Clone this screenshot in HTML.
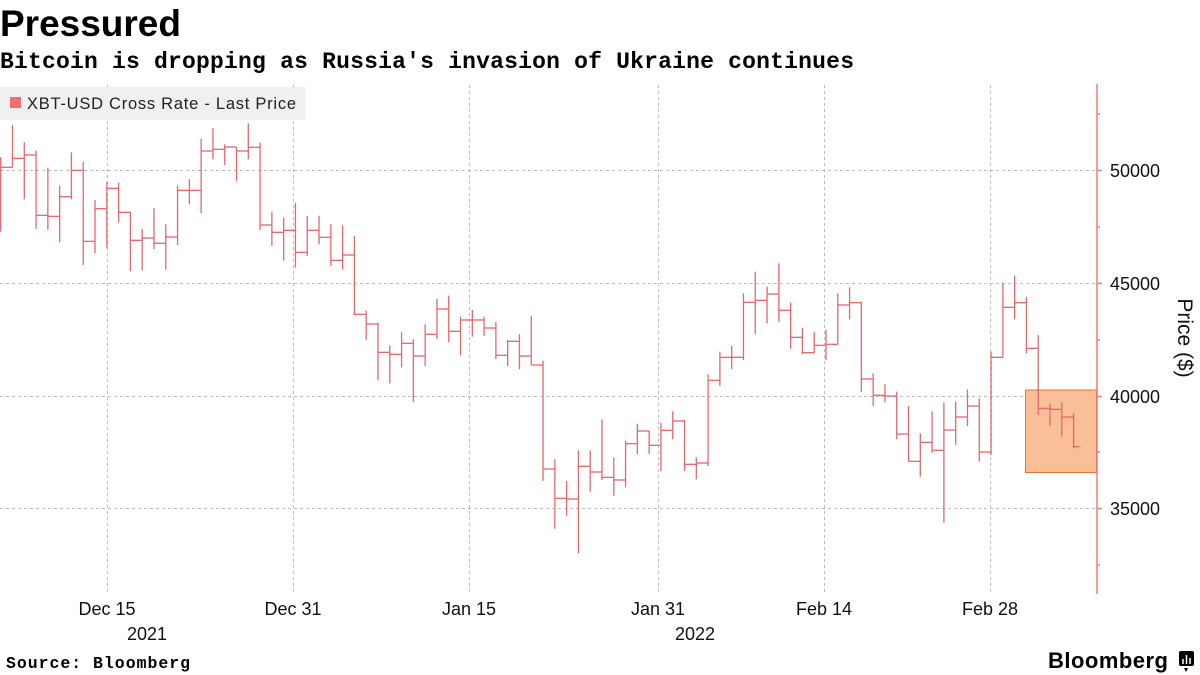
<!DOCTYPE html>
<html><head><meta charset="utf-8"><style>
body{margin:0;width:1200px;height:675px;background:#fff;overflow:hidden;font-family:"Liberation Sans",sans-serif}
</style></head><body>
<svg id="s" width="1200" height="675" xmlns="http://www.w3.org/2000/svg" style="position:absolute;left:0;top:0">
<text x="0" y="36" font-family="Liberation Sans" font-weight="bold" font-size="37" fill="#000">Pressured</text>
<text x="0" y="68" font-family="Liberation Mono, monospace" font-weight="bold" font-size="23" fill="#000" textLength="854">Bitcoin is dropping as Russia's invasion of Ukraine continues</text>
<g stroke="#bbb" stroke-width="1" stroke-dasharray="3,3">
<line x1="0" x2="1096" y1="170.5" y2="170.5"/><line x1="0" x2="1096" y1="283.5" y2="283.5"/>
<line x1="0" x2="1096" y1="396.5" y2="396.5"/><line x1="0" x2="1096" y1="508.5" y2="508.5"/>
<line x1="107.5" x2="107.5" y1="85" y2="594"/><line x1="293.5" x2="293.5" y1="85" y2="594"/>
<line x1="469.5" x2="469.5" y1="85" y2="594"/><line x1="658.5" x2="658.5" y1="85" y2="594"/>
<line x1="824.5" x2="824.5" y1="85" y2="594"/><line x1="990.5" x2="990.5" y1="85" y2="594"/>
</g>
<rect x="0" y="87" width="305" height="33" fill="#f0f0f0"/>
<rect x="10" y="97" width="11" height="11" fill="#f07070"/>
<text x="27" y="109" font-size="16.5" fill="#222" textLength="269">XBT-USD Cross Rate - Last Price</text>
<rect x="1025.5" y="390" width="71" height="82.5" fill="#f9bf97" stroke="#e8742f" stroke-width="1"/>
<g id="bars" stroke="#e8676a" stroke-width="1.3" fill="none"></g>
<line x1="1097" x2="1097" y1="84" y2="594" stroke="#f07a7a" stroke-width="1.5"/>
<g stroke="#f07a7a" stroke-width="1.5">
<line x1="1097" x2="1102" y1="170.5" y2="170.5"/><line x1="1097" x2="1102" y1="283.5" y2="283.5"/>
<line x1="1097" x2="1102" y1="396.5" y2="396.5"/><line x1="1097" x2="1102" y1="508.5" y2="508.5"/>
<line x1="1097" x2="1100" y1="114" y2="114"/><line x1="1097" x2="1100" y1="227" y2="227"/>
<line x1="1097" x2="1100" y1="340" y2="340"/><line x1="1097" x2="1100" y1="452" y2="452"/>
<line x1="1097" x2="1100" y1="565" y2="565"/>
</g>
<g font-size="18" fill="#111">
<text x="1110" y="177">50000</text><text x="1110" y="290">45000</text>
<text x="1110" y="403">40000</text><text x="1110" y="515">35000</text>
</g>
<text transform="translate(1178,338) rotate(90)" text-anchor="middle" font-size="21" fill="#111">Price ($)</text>
<g font-size="18" fill="#111" text-anchor="middle">
<text x="107" y="615">Dec 15</text><text x="293" y="615">Dec 31</text><text x="469" y="615">Jan 15</text>
<text x="658" y="615">Jan 31</text><text x="824" y="615">Feb 14</text><text x="990" y="615">Feb 28</text>
<text x="147" y="640">2021</text><text x="695" y="640">2022</text>
</g>
<text x="6" y="668" font-family="Liberation Mono, monospace" font-weight="bold" font-size="16.5" fill="#000" textLength="184">Source: Bloomberg</text>
<text x="1048" y="668" font-weight="bold" font-size="22" fill="#000" textLength="120">Bloomberg</text>
<rect x="1179" y="651" width="15" height="15" rx="2" fill="#000"/>
<path d="M1184 668 l2 4 l2 -4z" fill="#000"/>
<g stroke="#fff" stroke-width="1.5"><line x1="1183" x2="1183" y1="659" y2="664"/><line x1="1186.5" x2="1186.5" y1="655" y2="664"/><line x1="1190" x2="1190" y1="658" y2="664"/></g>
</svg>
<script>
var z=[
[110,[[142,365,172],[45,172,145],[97,268,135],[122,357,316],[173,360,319],[227,397,260],[127,268,181],[155,466,394],[270,430,296],[215,413,235],[218,337,307],[305,484,391],[357,481,384],[295,417,400],[343,479,381],[227,405,241],[208,283,241],[86,310,123],[55,148,118],[103,165,111],[111,213,123],[40,148,112],[98,360,345]]],
[200,[[35,138,97],[52,182,91],[8,203,157],[48,167,91],[47,133,112],[73,198,181],[76,208,165],[108,345,343],[332,420,372],[368,541,457],[437,550,463],[397,502,430],[418,606,468],[373,498,403],[296,417,327],[287,427,394],[350,466,360],[330,410,360],[350,408,384],[366,477,466],[420,498,424],[403,508,468],[348,490,495],[482,843,807]]],
[250,[[628,836,745],[693,797,747],[601,910,649],[601,725,666],[508,690,682],[622,737,690],[573,712,581],[521,612,543],[543,612,586],[519,664,541],[484,568,513],[510,663,643],[622,688,639],[373,648,391],[305,408,322],[288,357,322],[130,330,157],[65,253,151],[110,220,132],[40,216,181],[157,296,262],[233,313,308],[245,310,286],[240,330,283],[130,283,165],[112,208,158],[155,425,387],[370,468,436],[403,457,438],[425,568,552],[468,635,634],[550,680,577],[484,608,601],[457,818,540],[455,585,501],[418,528,468],[445,635,606],[305,615,322],[98,322,172],[77,208,158],[140,310,295],[255,495,475],[462,528,478],[457,560,501],[490,595,590]]]
];
var d=[];z.forEach(function(g){g[1].forEach(function(b){d.push([g[0]+b[0]/3,g[0]+b[1]/3,g[0]+b[2]/3]);});});
var h='',sp=11.79;
for(var i=0;i<d.length;i++){var x=0.7+sp*i,b=d[i];
h+='<line x1="'+x+'" x2="'+x+'" y1="'+b[0]+'" y2="'+Math.max(b[1],b[2])+'"/>';
var w=(i==d.length-1)?6:sp;
h+='<line x1="'+x+'" x2="'+(x+w)+'" y1="'+b[2]+'" y2="'+b[2]+'"/>';}
document.getElementById('bars').innerHTML=h;
</script>
</body></html>
